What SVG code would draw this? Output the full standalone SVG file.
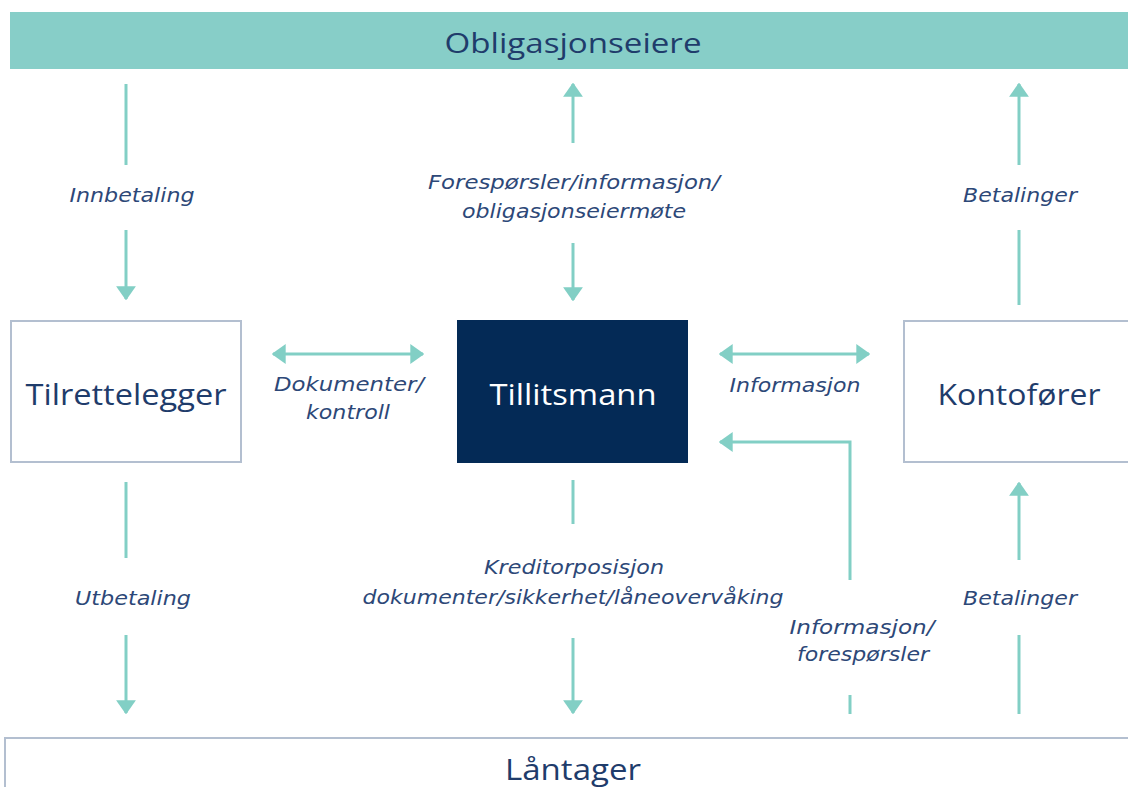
<svg xmlns="http://www.w3.org/2000/svg" width="1128" height="787" viewBox="0 0 1128 787">
<defs>
<marker id="ah" viewBox="0 0 10 14" refX="9" refY="7" markerWidth="4.7" markerHeight="6.6" markerUnits="strokeWidth" orient="auto-start-reverse" preserveAspectRatio="none">
<path d="M0,0 L10,7 L0,14 Z" fill="#82cfc5"/>
</marker>
<style>
.title{font-family:"Open Sans","DejaVu Sans",sans-serif;font-size:30px;fill:#1f3c6b;text-anchor:middle}
.lbl{font-family:"DejaVu Sans","Open Sans",sans-serif;font-size:19px;font-style:italic;fill:#2d4878;text-anchor:middle}
.box{fill:#ffffff;stroke:#b3bfd0;stroke-width:2}
.c{fill:none;stroke:#82cfc5;stroke-width:3}
</style>
</defs>
<rect width="1128" height="787" fill="#ffffff"/>
<g id="obligasjonseiere">
<rect x="10" y="12" width="1130" height="57" fill="#87cec8"/>
<text class="title" x="573" y="53" style="font-size:28px" textLength="257" lengthAdjust="spacingAndGlyphs">Obligasjonseiere</text>
</g>
<g id="tilrettelegger">
<rect class="box" x="11" y="321" width="230" height="141"/>
<text class="title" x="126" y="405" textLength="201" lengthAdjust="spacingAndGlyphs">Tilrettelegger</text>
</g>
<g id="tillitsmann">
<rect x="457" y="320" width="231" height="143" fill="#042a56"/>
<text class="title" x="573" y="405" style="fill:#ffffff" textLength="167" lengthAdjust="spacingAndGlyphs">Tillitsmann</text>
</g>
<g id="kontoforer">
<rect class="box" x="904" y="321" width="240" height="141"/>
<text class="title" x="1019" y="405" textLength="163" lengthAdjust="spacingAndGlyphs">Kontofører</text>
</g>
<g id="lantager">
<rect class="box" x="5" y="738" width="1140" height="60"/>
<text class="title" x="573" y="780" textLength="136" lengthAdjust="spacingAndGlyphs">Låntager</text>
</g>
<g id="connectors">
<line class="c" x1="126" y1="84" x2="126" y2="165"/>
<line class="c" x1="126" y1="230" x2="126" y2="299" marker-end="url(#ah)"/>
<line class="c" x1="573" y1="143" x2="573" y2="84" marker-end="url(#ah)"/>
<line class="c" x1="573" y1="243" x2="573" y2="300" marker-end="url(#ah)"/>
<line class="c" x1="1019" y1="165" x2="1019" y2="84" marker-end="url(#ah)"/>
<line class="c" x1="1019" y1="230" x2="1019" y2="305"/>
<line class="c" x1="273" y1="354" x2="423" y2="354" marker-start="url(#ah)" marker-end="url(#ah)"/>
<line class="c" x1="720" y1="354" x2="869" y2="354" marker-start="url(#ah)" marker-end="url(#ah)"/>
<polyline class="c" points="850,580 850,442 720,442" marker-end="url(#ah)"/>
<line class="c" x1="850" y1="695" x2="850" y2="714"/>
<line class="c" x1="126" y1="482" x2="126" y2="558"/>
<line class="c" x1="126" y1="635" x2="126" y2="713" marker-end="url(#ah)"/>
<line class="c" x1="573" y1="480" x2="573" y2="524"/>
<line class="c" x1="573" y1="638" x2="573" y2="713" marker-end="url(#ah)"/>
<line class="c" x1="1019" y1="560" x2="1019" y2="483" marker-end="url(#ah)"/>
<line class="c" x1="1019" y1="635" x2="1019" y2="714"/>
</g>
<g id="labels">
<text class="lbl" x="132" y="202" textLength="125" lengthAdjust="spacingAndGlyphs">Innbetaling</text>
<text class="lbl" x="574" y="189" textLength="292" lengthAdjust="spacingAndGlyphs">Forespørsler/informasjon/</text>
<text class="lbl" x="574" y="218" textLength="224" lengthAdjust="spacingAndGlyphs">obligasjonseiermøte</text>
<text class="lbl" x="1020" y="202" textLength="114" lengthAdjust="spacingAndGlyphs">Betalinger</text>
<text class="lbl" x="349" y="391" textLength="150" lengthAdjust="spacingAndGlyphs">Dokumenter/</text>
<text class="lbl" x="348" y="419" textLength="84" lengthAdjust="spacingAndGlyphs">kontroll</text>
<text class="lbl" x="795" y="392" textLength="131" lengthAdjust="spacingAndGlyphs">Informasjon</text>
<text class="lbl" x="133" y="605" textLength="116" lengthAdjust="spacingAndGlyphs">Utbetaling</text>
<text class="lbl" x="574" y="574" textLength="180" lengthAdjust="spacingAndGlyphs">Kreditorposisjon</text>
<text class="lbl" x="573" y="604" textLength="421" lengthAdjust="spacingAndGlyphs">dokumenter/sikkerhet/låneovervåking</text>
<text class="lbl" x="862" y="634" textLength="145" lengthAdjust="spacingAndGlyphs">Informasjon/</text>
<text class="lbl" x="863" y="661" textLength="132" lengthAdjust="spacingAndGlyphs">forespørsler</text>
<text class="lbl" x="1020" y="605" textLength="114" lengthAdjust="spacingAndGlyphs">Betalinger</text>
</g>
</svg>
